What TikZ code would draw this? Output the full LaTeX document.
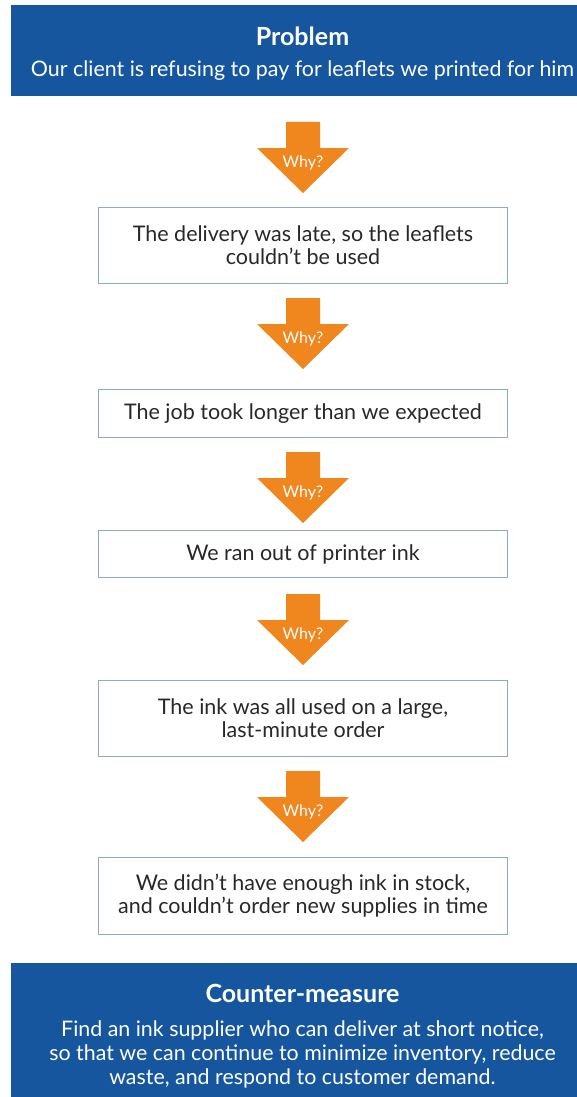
\documentclass[tikz,border=0pt]{standalone}
\usepackage{fontspec}
\setmainfont{Lato}
\definecolor{bannerblue}{RGB}{22,86,158}
\definecolor{orng}{RGB}{240,134,30}
\definecolor{boxline}{RGB}{140,170,205}
\definecolor{txt}{RGB}{40,40,40}
\begin{document}
\begin{tikzpicture}[x=1pt,y=-1pt,
  bannerbox/.style={fill=bannerblue, draw=none},
  stepbox/.style={draw=boxline, line width=1pt, fill=white, minimum width=409pt,
    anchor=north west, inner sep=0pt, text=txt, align=center,
    font=\fontsize{21.5}{23}\selectfont},
  titletext/.style={text=white, font=\bfseries\fontsize{25}{28}\selectfont},
  bodytext/.style={text=white, align=center, font=\fontsize{21.4}{24}\selectfont},
  whytext/.style={text=white, font=\fontsize{16}{18}\selectfont},
  whyarrow/.pic={
    \fill[orng] (-17,0) -- (17,0) -- (17,26) -- (46,26) -- (0,71) -- (-46,26) -- (-17,26) -- cycle;
    \node[whytext] (-label) at (0,41) {Why?};
  }
]
\useasboundingbox (0,0) rectangle (577,1097);
\fill[white] (0,0) rectangle (577,1097);
% top banner
\fill[bannerblue] (11,5) rectangle (577,96);
\node[titletext] (ptitle) at (302.5,36) {Problem};
\node[bodytext] (ptext) at (302.5,71) {Our client is refusing to pay for leaflets we printed for him};
% boxes
\node[stepbox, minimum height=76pt] (b1) at (98,207) {The delivery was late, so the leaflets\\couldn’t be used};
\node[stepbox, minimum height=48pt] (b2) at (98,389) {The job took longer than we expected};
\node[stepbox, minimum height=47pt] (b3) at (98,530) {We ran out of printer ink};
\node[stepbox, minimum height=76pt] (b4) at (98,680) {The ink was all used on a large,\\last-minute order};
\node[stepbox, minimum height=77pt] (b5) at (98,857) {We didn’t have enough ink in stock,\\and couldn’t order new supplies in time};
% arrows
\pic (a1) at (303,122) {whyarrow};
\pic (a2) at (303,298) {whyarrow};
\pic (a3) at (303,452) {whyarrow};
\pic (a4) at (303,594) {whyarrow};
\pic (a5) at (303,771) {whyarrow};
% bottom banner
\fill[bannerblue] (11,963) rectangle (577,1097);
\node[titletext] (ctitle) at (302.5,993) {Counter-measure};
\node[bodytext] (ctext) at (302.5,1054) {Find an ink supplier who can deliver at short notice,\\so that we can continue to minimize inventory, reduce\\waste, and respond to customer demand.};
\end{tikzpicture}
\end{document}
